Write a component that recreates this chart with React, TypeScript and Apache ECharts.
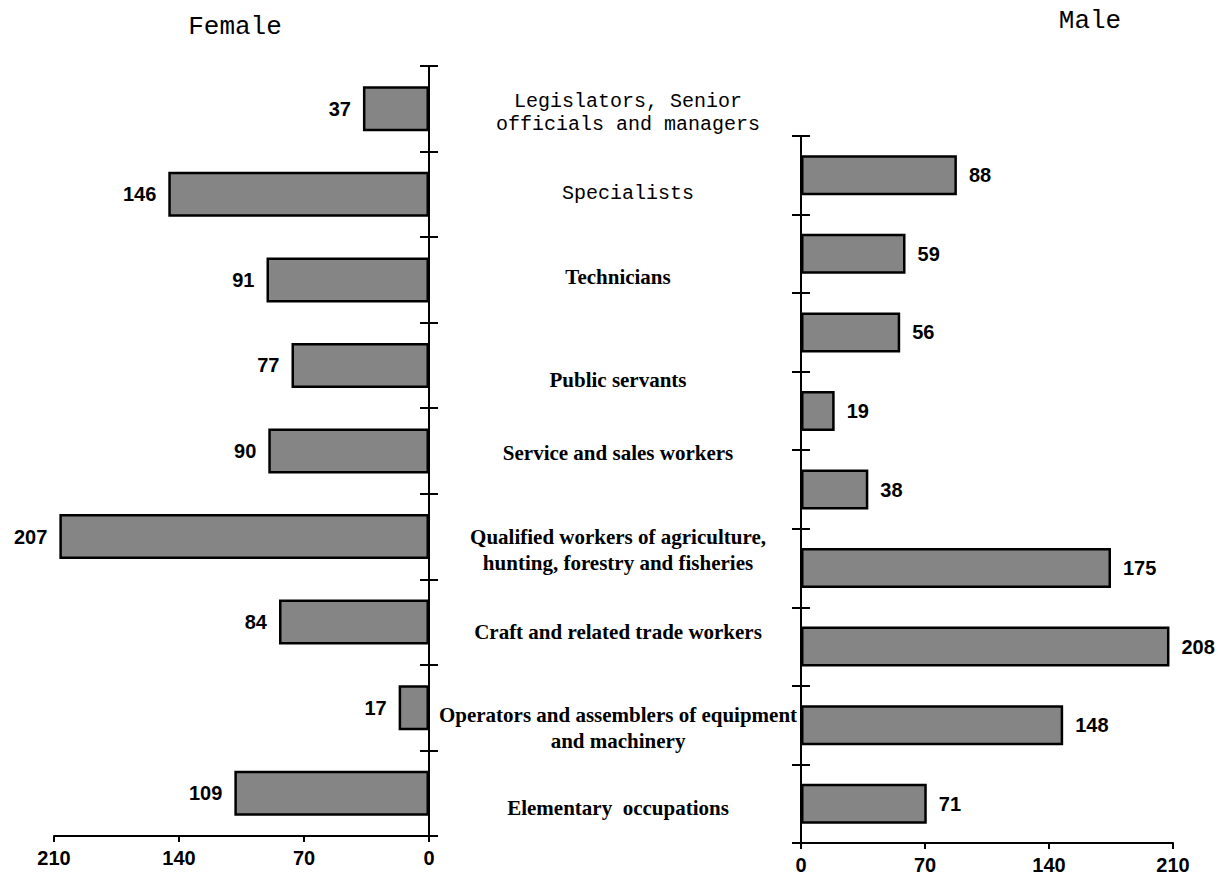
import React, { useEffect, useRef } from 'react';
import * as echarts from 'echarts';

const categories = [
  'Legislators, Senior\nofficials and managers',
  'Specialists',
  'Technicians',
  'Public servants',
  'Service and sales workers',
  'Qualified workers of agriculture,\nhunting, forestry and fisheries',
  'Craft and related trade workers',
  'Operators and assemblers of equipment\nand machinery',
  'Elementary  occupations',
];
const femaleValues = [37, 146, 91, 77, 90, 207, 84, 17, 109];
const maleValues = [88, 59, 56, 19, 38, 175, 208, 148, 71];
const axisMin = 0;
const axisMax = 210;
const axisInterval = 70;

// layout of the centre category texts (not data)
const labelY = [113, 193, 277, 380, 453, 550, 632, 728, 808];
const monoLabels = [true, true, false, false, false, false, false, false, false];

const SANS = 'Liberation Sans, Arial, sans-serif';
const SERIF = 'Liberation Serif, Times New Roman, serif';
const MONO = 'Liberation Mono, Courier New, monospace';

function valueAxis(gridIndex: number, inverse: boolean) {
  return {
    gridIndex,
    type: 'value',
    min: axisMin,
    max: axisMax,
    interval: axisInterval,
    inverse,
    splitLine: { show: false },
    axisLine: { show: true, lineStyle: { color: '#000', width: 2 } },
    axisTick: { show: true, length: 6, lineStyle: { color: '#000', width: 2 } },
    axisLabel: { fontFamily: SANS, fontWeight: 'bold', fontSize: 20, color: '#000', margin: 12 },
  };
}

function catAxis(gridIndex: number, position: string, inside: boolean, showLine: boolean) {
  return {
    gridIndex,
    type: 'category',
    data: categories,
    inverse: true,
    position,
    axisLine: { show: showLine, lineStyle: { color: '#000', width: 2 } },
    axisTick: { show: true, inside, length: 9, lineStyle: { color: '#000', width: 2 } },
    axisLabel: { show: false },
    splitLine: { show: false },
  };
}

export default function App() {
  const ref = useRef<HTMLDivElement>(null);
  useEffect(() => {
    const chart = echarts.init(ref.current!, null, { renderer: 'svg' });
    const barStyle = { color: '#858585', borderColor: '#000', borderWidth: 2.5 };
    const labelStyle = { fontFamily: SANS, fontWeight: 'bold', fontSize: 20, color: '#000' };
    chart.setOption({
      animation: false,
      backgroundColor: '#fff',
      grid: [
        { left: 54, right: 793, top: 66, bottom: 44 },
        { left: 801, right: 49, top: 136, bottom: 37 },
      ],
      xAxis: [valueAxis(0, true), valueAxis(1, false)],
      yAxis: [
        catAxis(0, 'right', false, true),
        catAxis(0, 'right', true, false),
        catAxis(1, 'left', false, true),
        catAxis(1, 'left', true, false),
      ],
      series: [
        {
          name: 'Female',
          type: 'bar',
          xAxisIndex: 0,
          yAxisIndex: 0,
          data: femaleValues,
          barWidth: 45,
          itemStyle: barStyle,
          label: { show: true, position: 'left', distance: 12, ...labelStyle },
        },
        {
          name: 'Male',
          type: 'bar',
          xAxisIndex: 1,
          yAxisIndex: 2,
          data: maleValues,
          barWidth: 40,
          itemStyle: barStyle,
          label: { show: true, position: 'right', distance: 12, ...labelStyle },
        },
      ],
      graphic: [
        {
          type: 'text',
          x: 235,
          y: 27,
          style: { text: 'Female', fontFamily: MONO, fontSize: 26, fill: '#000', align: 'center', verticalAlign: 'middle' },
        },
        {
          type: 'text',
          x: 1090,
          y: 21,
          style: { text: 'Male', fontFamily: MONO, fontSize: 26, fill: '#000', align: 'center', verticalAlign: 'middle' },
        },
        ...categories.map((c, i) => ({
          type: 'text',
          x: monoLabels[i] ? 628 : 618,
          y: labelY[i],
          style: {
            text: c,
            fontFamily: monoLabels[i] ? MONO : SERIF,
            fontWeight: monoLabels[i] ? 'normal' : 'bold',
            fontSize: monoLabels[i] ? 20 : 21,
            lineHeight: monoLabels[i] ? 23 : 26,
            fill: '#000',
            align: 'center',
            verticalAlign: 'middle',
          },
        })),
      ],
    });
    return () => chart.dispose();
  }, []);
  return <div ref={ref} style={{ position: 'absolute', left: 0, top: 0, width: 1222, height: 880 }} />;
}
